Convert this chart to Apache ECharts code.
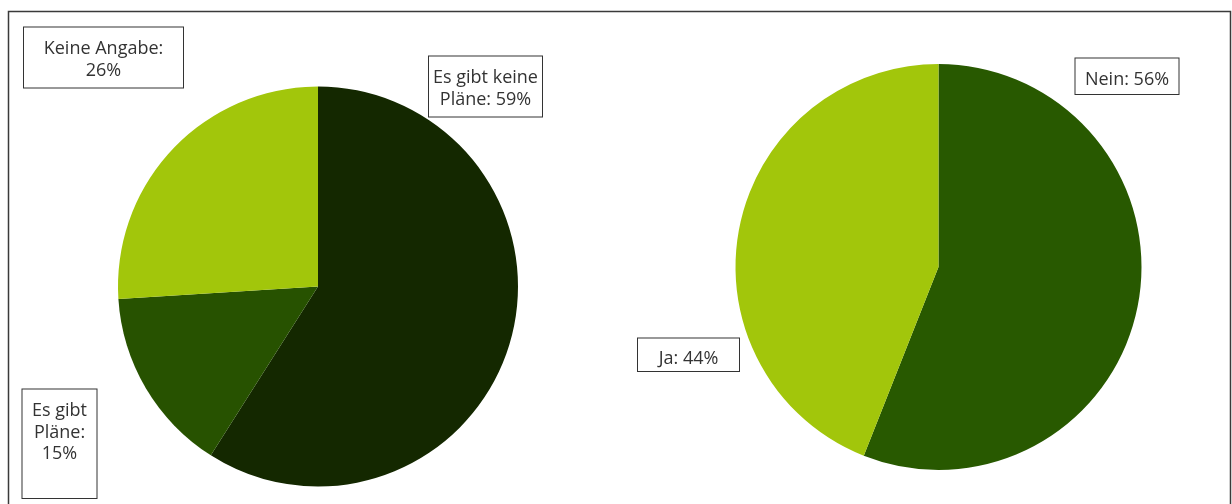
<!DOCTYPE html>
<html>
<head>
<meta charset="utf-8">
<script src="https://cdn.jsdelivr.net/npm/echarts@6/dist/echarts.min.js"></script>
<style>
  html, body { margin: 0; padding: 0; background: #fff; }
  #chart { width: 1232px; height: 504px; }
</style>
</head>
<body>
<div id="chart"></div>
<script>
// Plans survey (left pie)
const planCategories = ['Es gibt keine Pläne', 'Es gibt Pläne', 'Keine Angabe'];
const planValues = [59, 15, 26];
// Yes / no survey (right pie)
const ynCategories = ['Nein', 'Ja'];
const ynValues = [56, 44];

const planColors = ['#142800', '#275200', '#a2c60b'];
const ynColors = ['#285900', '#a2c60b'];

// Label text with explicit line breaks per slice
const planLabelText = [
  (n, v) => 'Es gibt keine\nPläne: ' + v + '%',
  (n, v) => 'Es gibt\nPläne:\n' + v + '%',
  (n, v) => 'Keine Angabe:\n' + v + '%'
];
const ynLabelText = [
  (n, v) => n + ': ' + v + '%',
  (n, v) => n + ': ' + v + '%'
];

// Label boxes: centre x, top y, box width, padding [top, right, bottom, left]
const planBoxes = [
  { cx: 485.5, top: 56.5, w: 113, pad: [11, 0, 6, 0] },
  { cx: 59.5, top: 389.5, w: 74, pad: [11, 0, 33, 0] },
  { cx: 103.5, top: 27.5, w: 159, pad: [11, 0, 6, 0] }
];
const ynBoxes = [
  { cx: 1127, top: 58.5, w: 103, pad: [11, 0, 3, 0] },
  { cx: 688.5, top: 338.5, w: 101, pad: [10, 0, 1, 0] }
];

const labelBase = {
  show: true,
  position: 'outside',
  color: '#333333',
  fontFamily: 'Open Sans',
  fontSize: 18,
  lineHeight: 21.5,
  backgroundColor: '#ffffff',
  borderColor: '#333333',
  borderWidth: 1,
  align: 'center'
};

function buildData(cats, vals, colors, texts, boxes) {
  return cats.map((c, i) => ({
    name: c,
    value: vals[i],
    itemStyle: { color: colors[i] },
    label: Object.assign({}, labelBase, {
      formatter: texts[i](c, vals[i]),
      width: boxes[i].w - boxes[i].pad[1] - boxes[i].pad[3],
      padding: boxes[i].pad
    })
  }));
}

function layoutFor(boxes) {
  return function (params) {
    const b = boxes[params.dataIndex];
    return { x: b.cx, y: b.top, align: 'center', verticalAlign: 'top' };
  };
}

const chart = echarts.init(document.getElementById('chart'), null, { renderer: 'canvas' });
chart.setOption({
  animation: false,
  backgroundColor: '#ffffff',
  graphic: [{
    type: 'rect',
    shape: { x: 8.5, y: 11.5, width: 1222, height: 520 },
    style: { fill: 'none', stroke: '#3a3a3a', lineWidth: 1.5 },
    z: -10
  }],
  series: [
    {
      type: 'pie',
      center: [318, 286.5],
      radius: [0, 200],
      startAngle: 90,
      clockwise: true,
      avoidLabelOverlap: false,
      labelLine: { show: false },
      itemStyle: { borderWidth: 0 },
      emphasis: { disabled: true },
      data: buildData(planCategories, planValues, planColors, planLabelText, planBoxes),
      labelLayout: layoutFor(planBoxes)
    },
    {
      type: 'pie',
      center: [938.5, 267],
      radius: [0, 203],
      startAngle: 90,
      clockwise: true,
      avoidLabelOverlap: false,
      labelLine: { show: false },
      itemStyle: { borderWidth: 0 },
      emphasis: { disabled: true },
      data: buildData(ynCategories, ynValues, ynColors, ynLabelText, ynBoxes),
      labelLayout: layoutFor(ynBoxes)
    }
  ]
});
</script>
</body>
</html>
